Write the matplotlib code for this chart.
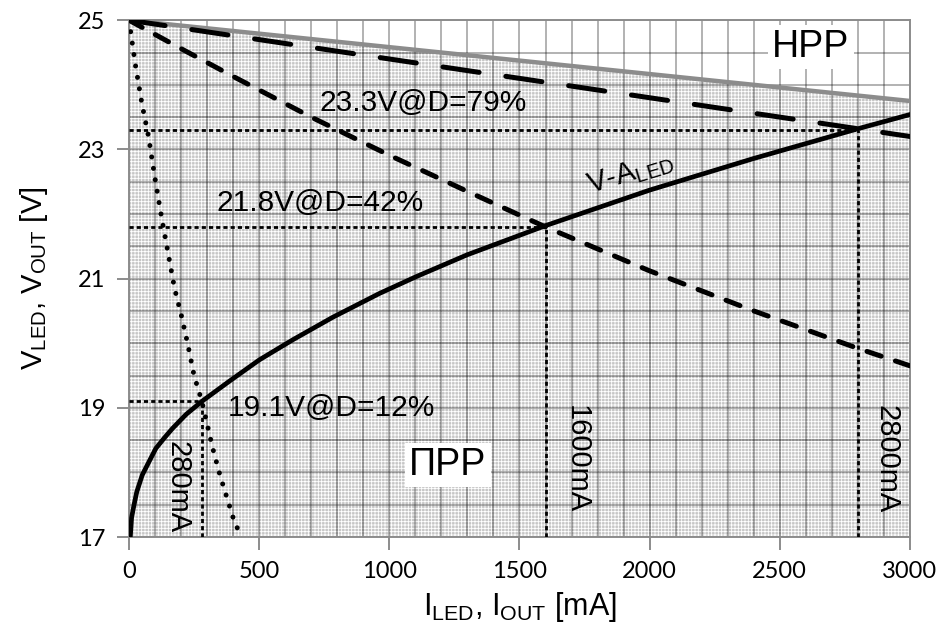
import matplotlib
matplotlib.use("Agg")
import matplotlib.pyplot as plt

plt.rcParams['font.family'] = ['Liberation Sans', 'DejaVu Sans']
plt.rcParams['mathtext.fontset'] = 'custom'
plt.rcParams['mathtext.rm'] = 'Liberation Sans'
plt.rcParams['hatch.linewidth'] = 0.6

# boundary between the two regions (grey line)
hpp_i = [0, 3000]
hpp_v = [25, 23.75]

# LED V-A characteristic
led_i = [5, 10, 19, 30, 51, 75, 103, 135, 167, 220, 280, 385, 500, 628, 782, 962,
         1103, 1300, 1600, 2000, 2400, 2800, 3000]
led_v = [17.0, 17.3, 17.49, 17.7, 17.96, 18.15, 18.37, 18.53, 18.68, 18.9, 19.1, 19.41,
         19.74, 20.05, 20.4, 20.77, 21.03, 21.37, 21.82, 22.37, 22.86, 23.32, 23.54]

# output lines for the three duty cycles
d79_i = [0, 1000, 2000, 2800, 3000]
d79_v = [25, 24.4, 23.8, 23.32, 23.2]

d42_i = [0, 200, 400, 700, 1000, 1300, 1600, 2000, 2400, 2800, 3000]
d42_v = [25, 24.56, 24.13, 23.5, 22.91, 22.35, 21.8, 21.12, 20.5, 19.92, 19.65]

d12_i = [0, 25, 50, 75, 100, 125, 150, 175, 200, 225, 250, 280, 320, 350, 400, 430]
d12_v = [25, 24.3, 23.7, 23.2, 22.55, 21.95, 21.4, 20.85, 20.45, 20.0, 19.5, 19.1, 18.4, 17.95, 17.3, 17.0]

# operating points
op_i = [280, 1600, 2800]
op_v = [19.1, 21.8, 23.3]
op_text = ['19.1V@D=12%', '21.8V@D=42%', '23.3V@D=79%']
op_text_xy = [(380, 19.0), (338, 22.17), (730, 23.72)]
op_cur = ['280mA', '1600mA', '2800mA']
op_cur_xy = [(188, 17.77), (1721, 18.2), (2911, 18.2)]

fig = plt.figure(figsize=(9.47, 6.28), dpi=100)
ax = fig.add_axes([0.1362, 0.1449, 0.8247, 0.8229])

ax.set_xlim(0, 3000)
ax.set_ylim(17, 25)

ax.fill_between(hpp_i, hpp_v, 17, facecolor='#c6c6c6', edgecolor='white',
                hatch='+++++', linewidth=0, zorder=0.2)

ax.set_xticks(range(0, 3001, 500))
ax.set_yticks([17, 19, 21, 23, 25])
ax.set_xticks(range(0, 3001, 100), minor=True)
ax.set_yticks([17 + 0.5 * k for k in range(17)], minor=True)
ax.grid(True, which='both', color='black', alpha=0.3, linewidth=1.4, zorder=0.5)
ax.tick_params(which='minor', length=0)
ax.tick_params(which='major', length=9, width=1.4, color='#8c8c8c', direction='out',
               labelsize=17, pad=8)
for lab in ax.get_xticklabels() + ax.get_yticklabels():
    lab.set_fontfamily('Lato')
for s in ax.spines.values():
    s.set_color('#8c8c8c')
    s.set_linewidth(1.4)

# helper lines
for i, v in zip(op_i, op_v):
    ax.plot([0, i], [v, v], color='black', linewidth=2.0, dashes=(1.5, 1.1), zorder=3)
    ax.plot([i, i], [17, v], color='black', linewidth=2.0, dashes=(1.5, 1.1), zorder=3)

ax.plot(hpp_i, hpp_v, color='#8c8c8c', linewidth=3.2, zorder=4, solid_capstyle='butt')
ax.plot(d79_i, d79_v, color='black', linewidth=3.6, dashes=(7.3, 5.4),
        dash_capstyle='round', zorder=5)
ax.plot(d42_i, d42_v, color='black', linewidth=3.6, dashes=(3.0, 3.0),
        dash_capstyle='round', zorder=5)
ax.plot(d12_i, d12_v, color='black', linewidth=3.6, dashes=(0.01, 2.3),
        dash_capstyle='round', zorder=5)
ax.plot(led_i, led_v, color='black', linewidth=3.4, zorder=6, solid_joinstyle='round')

for t, (x, y) in zip(op_text, op_text_xy):
    ax.text(x, y, t, fontsize=21.5, ha='left', va='center', zorder=7)

for t, (x, y) in zip(op_cur, op_cur_xy):
    ax.text(x, y, t, fontsize=21, rotation=-90, ha='center', va='center', zorder=7)

ax.text(1925, 22.64, r'V-A$_{\mathregular{LED}}$', fontsize=21, rotation=17,
        ha='center', va='center', zorder=7)

ax.text(1225, 18.12, 'ΠPP', fontsize=27, ha='center', va='center', zorder=7,
        bbox=dict(facecolor='white', edgecolor='none', pad=3))
ax.text(2620, 24.58, 'HPP', fontsize=27, ha='center', va='center', zorder=7,
        bbox=dict(facecolor='white', edgecolor='none', pad=3))

ax.set_xlabel(r'$\mathregular{I_{LED}}$, $\mathregular{I_{OUT}}$ [mA]', fontsize=22, labelpad=6)
ax.set_ylabel(r'$\mathregular{V_{LED}}$, $\mathregular{V_{OUT}}$ [V]', fontsize=21, labelpad=20)

fig.savefig('out.png', dpi=100)
